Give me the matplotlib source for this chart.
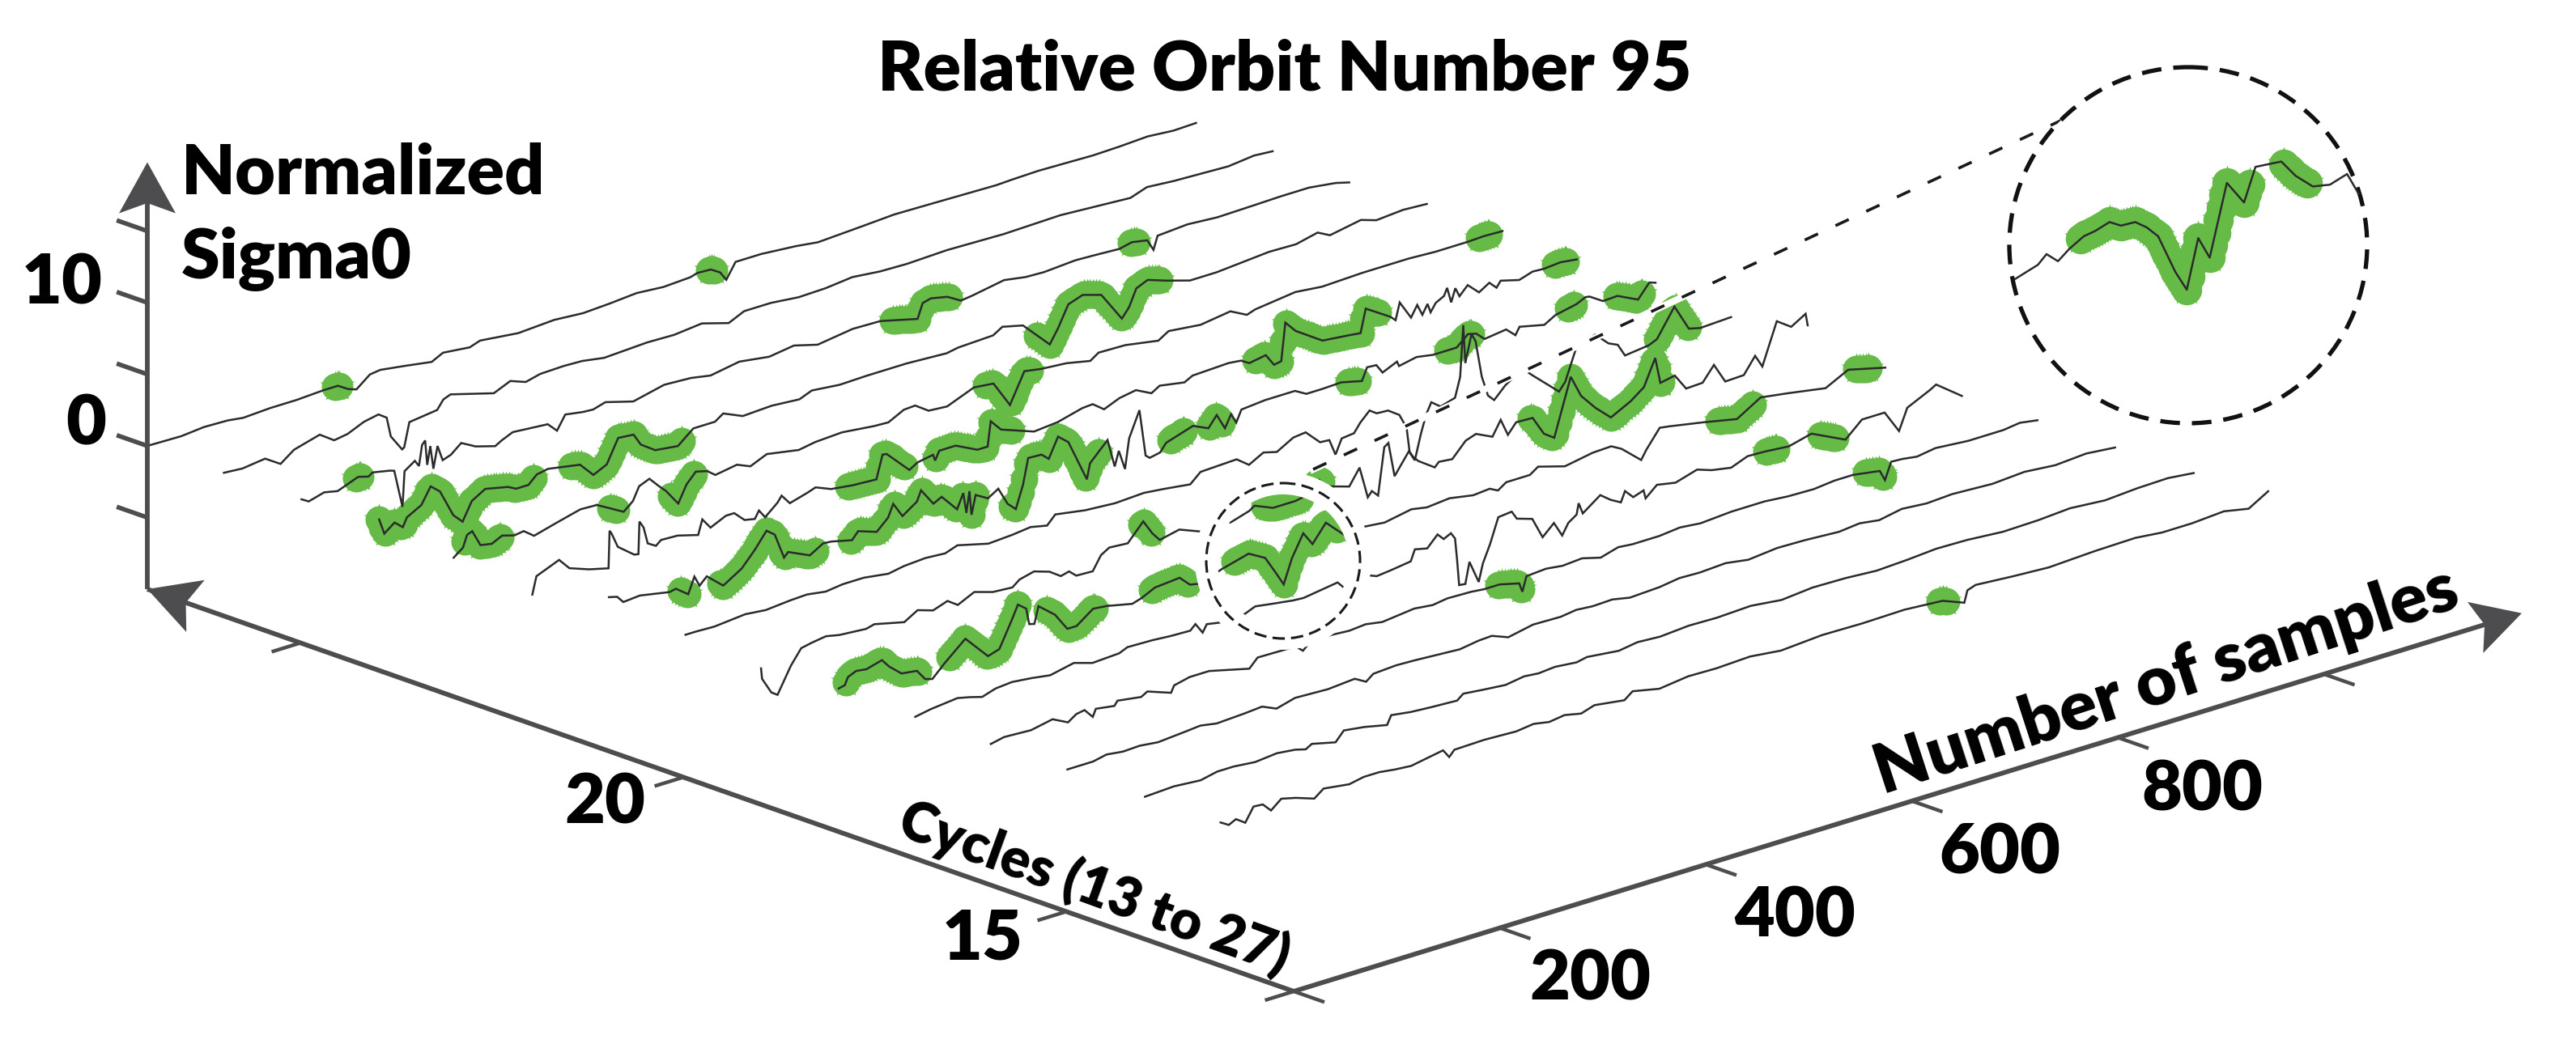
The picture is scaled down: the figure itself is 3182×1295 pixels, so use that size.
import numpy as np
import matplotlib
matplotlib.use("Agg")
import matplotlib.pyplot as plt
from matplotlib.patches import Ellipse, Polygon

# (sample, normalized sigma0)
curve_c27 = [(0,0),(33,-.05),(55,.1),(78,.05),(93,-.1),(119,0),(145,0),(171,.1),(185,.1),(195,-.35),(203,-.55),(216,.2),(226,.3),(250,.05),(276,-.25),(287,.15),(313,-.05),(323,.2),(360,-.1),(395,.05),(423,-.1),(449,0),(475,.15),(501,0),(527,.1),(534,.25),(547,.2),(556,-.2),(562,-.85),(571,.2),(596,.2),(630,0),(651,-.2),(690,-.05),(725,.1),(761,.05),(824,-.05),(839,0),(865,.05),(892,0),(918,-.05),(944,0),(971,.1),(996,-.05),(1018,0)]
curve_c26 = [(0,0),(18,-.1),(40,.1),(55,-.6),(68,.1),(93,.6),(107,-.1),(120,.05),(136,.55),(150,.75),(158,.35),(162,-1.05),(173,-2.2),(175,-2.1),(180,-.45),(207,-.2),(213,.4),(220,.6),(262,-.25),(278,.25),(293,-.15),(307,.1),(330,.15),(348,.1),(369,-.15),(411,0),(437,-.05),(464,.15),(490,-.4),(505,.1),(531,.1),(558,-.1),(584,-.05),(610,.15),(637,-.05),(663,-.1),(702,0),(757,-.1),(812,0),(880,-.3),(896,.1),(922,-.05),(975,-.2),(1000,0),(1018,-.1)]
curve_c25 = [(1,0),(8,-.3),(23,0),(36,-.2),(56,.35),(66,.15),(70,.35),(87,.1),(91,0),(99,-2.7),(101,-.25),(111,.25),(115,-.2),(118,1.2),(121,1.45),(123,-.3),(126,.95),(129,-.7),(133,.8),(138,-.3),(146,-.1),(156,.5),(170,-.05),(189,-.45),(195,-.2),(206,.15),(240,-.05),(249,-.7),(257,.25),(274,.05),(284,0),(296,.25),(323,-.3),(353,.2),(379,.1),(398,-.15),(426,.2),(455,-.1),(479,.15),(502,-.3),(536,.05),(563,0),(599,-.65),(604,.35),(612,.5),(628,.25),(641,-.3),(652,-.2),(683,.2),(704,-.05),(722,-.1),(752,.05),(769,0),(795,-.1),(807,.1),(822,-.1),(828,-.9),(832,0),(861,.15),(890,0),(924,.05),(952,.1),(979,.1),(1005,-.15),(1018,-.4)]
curve_c24 = [(2,.45),(7,-.65),(17,-.1),(25,-.6),(29,0),(43,.55),(52,1.65),(61,1.1),(74,-.85),(83,-1.5),(92,-.25),(105,.3),(127,-.05),(135,-.35),(147,-.35),(155,.2),(166,.35),(197,-.05),(210,-1.05),(223,-.6),(234,1),(249,.9),(256,.05),(270,-.65),(292,-.85),(307,.05),(328,.05),(336,.45),(355,-.15),(383,-.05),(410,-.2),(422,.15),(449,-.05),(475,0),(514,0),(553,-.15),(564,0),(598,.1),(607,.5),(627,.15),(653,-1.75),(661,-.8),(671,.65),(685,1),(703,.6),(723,-1.5),(730,-.85),(737,.3),(748,.65),(766,.2),(789,-.3),(815,-.3),(866,0),(892,-.05),(913,.3),(925,-.15),(955,.25),(970,-.1),(996,.05),(1019,-.05)]
curve_c23 = [(0,-.3),(9,.2),(13,1),(18,1.15),(26,0),(37,-.15),(47,.2),(59,-.05),(68,.05),(78,-.5),(96,-.15),(112,.15),(123,.35),(139,.3),(165,-.75),(174,-.2),(180,.7),(190,1),(199,.3),(206,-.2),(218,-1.35),(226,-.2),(235,.5),(246,.3),(254,-.15),(275,.1),(288,-.3),(304,.2),(335,-.2),(351,0),(377,.1),(408,-.15),(422,-.2),(437,.35),(448,.4),(461,-.25),(479,-.35),(505,.4),(524,.25),(540,-1.6),(554,.45),(570,.25),(595,.1),(618,-.25),(626,.15),(652,.1),(684,-.3),(694,.15),(725,-.1),(754,.2),(770,-.4),(778,-.2),(817,.15),(843,-.05),(882,.05),(927,.05),(953,-.05),(985,-.05),(1000,0),(1018,-.05)]
curve_c22 = [(2,-1.05),(6,.15),(28,.8),(38,0),(57,-.5),(76,-.85),(77,1.75),(79,1.5),(85,.45),(101,-.45),(105,-.5),(106,1.75),(110,1.25),(114,.05),(122,-.3),(127,0),(143,-.05),(163,-.45),(167,.55),(175,-.2),(190,.3),(198,.3),(208,-.4),(218,-.55),(222,-.05),(228,-.65),(240,.1),(244,.5),(252,-.2),(269,.15),(277,.35),(292,-.1),(313,-.3),(336,-.4),(342,1.2),(346,1.15),(368,-.45),(376,-.1),(391,.1),(393,-.35),(397,.25),(413,.25),(434,-.5),(444,-.5),(447,1.2),(457,.4),(489,-.45),(512,-.3),(536,.15),(546,.2),(557,-.4),(572,.05),(588,.25),(603,-.3),(611,.05),(635,-.25),(643,.05),(678,.15),(690,.05),(698,-.3),(714,-.1),(722,-.95),(729,-.85),(733,1.75),(743,.95),(769,-.3),(795,-.5),(806,-.6),(811,1),(835,-.1),(840,-.45),(844,.7),(855,-.6),(861,.15),(866,-.65),(871,0),(874,-.65),(879,-.1),(887,.2),(890,.7),(894,-.4),(898,.5),(902,-.15),(910,.45),(921,-.3),(931,.15),(938,-.35),(942,.05),(960,-.3),(973,0),(984,-.05),(1000,.05),(1016,-.1)]
curve_c21 = [(2,.65),(10,.5),(16,0),(32,.1),(61,-.3),(67,-.2),(79,-.85),(85,.25),(90,-.5),(97,0),(113,-1),(131,-.2),(144,.85),(155,1.9),(163,1.45),(172,-.35),(176,-.05),(197,-.75),(210,-.2),(218,-.25),(238,-.6),(244,-.1),(262,-.55),(273,.2),(278,1.05),(287,0),(301,.7),(305,1.4),(317,.2),(325,.5),(340,-.7),(346,.3),(349,-1.15),(352,.3),(354,-1.4),(358,-.1),(370,-.6),(380,-.15),(389,-1.4),(397,-1.95),(404,-.4),(409,1.35),(422,1.3),(429,.85),(438,2.2),(448,1.6),(466,-1.4),(469,-.35),(486,.9),(493,-1.1),(497,-.1),(503,-1.5),(507,.55),(517,2.3),(523,-1),(527,-1.25),(537,-1.1),(543,-.55),(569,.05),(584,-.45),(592,.3),(600,-.8),(606,.05),(611,-.65),(616,.15),(639,.3),(668,.3),(679,-.15),(694,-.15),(713,-.1),(733,-.45),(738,.4),(747,.35),(753,-.3),(767,.15),(769,-.2),(786,.05),(802,-.15),(825,-.15),(836,.55),(844,.4),(852,-.15),(873,.05),(882,-.55),(886,-.05),(910,-.45),(921,0),(941,.3),(950,.6),(954,.55),(967,-.05),(981,0),(1001,-.7),(1012,.25),(1018,.1)]
curve_c20 = [(2,-.1),(12,-.1),(30,-.15),(60,.05),(80,-.1),(104,.05),(120,.1),(138,-.1),(155,.05),(175,.05),(199,-.2),(214,0),(235,.1),(254,0),(266,.3),(296,-.25),(319,-.15),(337,0),(353,-.25),(361,.35),(390,0),(419,-.15),(447,-.05),(466,-.2),(492,-.45),(502,.2),(537,.3),(549,-.35),(563,.2),(576,-.05),(592,.6),(604,.7),(618,-.3),(627,-.35),(633,-1.5),(639,-.5),(651,-.4),(657,.2),(666,.85),(673,.5),(684,.45),(695,-.1),(702,-1.15),(705,-2.95),(710,-3.6),(716,-1.85),(721,-.65),(726,.1),(735,-.4),(749,-.1),(754,1.25),(757,4.8),(759,2.1),(765,4),(769,3.4),(775,.8),(781,-.65),(787,-1.1),(798,-.3),(809,.2),(817,.3),(825,-.25),(850,-1.9),(856,-1.35),(867,.85),(872,.9),(885,1.3),(898,.4),(907,.1),(914,-.8),(937,-.6),(945,-.35),(962,1.55),(976,-.3),(987,-.5),(1017,-.4)]
curve_c19 = [(1,-.55),(2,-1.3),(11,-2.45),(17,-2.75),(30,-1),(40,0),(50,.15),(64,.3),(77,.1),(103,-.05),(111,.1),(140,-.4),(153,.15),(168,-.2),(182,.15),(192,-.35),(208,.2),(226,-.2),(245,-.3),(252,.1),(266,.35),(281,0),(292,-.55),(300,-.4),(307,-.85),(323,-.9),(331,.05),(339,.4),(357,.3),(372,1.5),(381,.45),(388,-.15),(407,.15),(428,-.45),(432,-.1),(457,-.45),(475,-.05),(480,.2),(498,-.35),(520,-.35),(530,-.2),(543,.6),(550,0),(572,-.5),(582,.6),(590,-1.65),(594,-1.3),(600,-1.75),(606,1.5),(610,1.7),(616,-.75),(630,.7),(634,.2),(639,-.2),(655,-1),(659,-.7),(672,-.8),(685,.2),(695,.45),(711,-.1),(719,.9),(726,-.3),(734,.4),(750,.35),(761,-1),(771,-1.5),(787,2.4),(797,.85),(811,-.3),(826,-1.3),(845,-.6),(858,.1),(869,1.9),(874,.05),(888,.25),(899,-.9),(915,-.85),(926,.15),(937,-1.25),(955,-1.2),(966,-.1),(973,-1),(987,1.85),(1001,1.15),(1015,1.75),(1017,.9)]
curve_c18 = [(2,-.1),(8,0),(11,.5),(19,.75),(29,.65),(44,.95),(51,.35),(63,-.4),(78,-.55),(86,-1.3),(93,-1.45),(105,-.6),(125,.65),(147,-1.05),(158,-.8),(170,.95),(176,1.9),(184,1.45),(187,.3),(192,.2),(196,1.35),(212,.4),(224,-.85),(233,-.85),(249,0),(262,-.1),(287,-.5),(296,-.3),(309,.15),(333,.3),(343,-.4),(353,-.55),(374,0),(400,.5),(416,-.15),(427,-1.5),(434,-2.4),(442,-.75),(453,.75),(462,-.2),(475,1),(495,-.4),(512,-.1),(532,-.25),(558,.1),(573,-.1),(595,.05),(618,-.25),(634,-.15),(642,-.45),(650,-.05),(673,-.05),(681,.35),(707,-.2),(734,.15),(752,.2),(762,-.2),(781,-1.4),(786,-.8),(799,.45),(808,.35),(841,-.1),(874,-.6),(897,.4),(924,.1),(960,-.35),(982,.45),(1018,-.2)]
curve_c17 = [(2,-.2),(17,0),(30,.1),(43,.2),(55,0),(67,-.25),(80,.05),(96,.15),(115,0),(133,-.2),(156,.15),(174,-.25),(200,-.15),(208,.1),(232,.05),(250,-.05),(269,-.1),(274,.25),(281,-.5),(285,0),(300,-.2),(322,-.1),(332,.2),(350,0),(369,-.2),(379,-.25),(412,.1),(420,-.55),(443,-.1),(450,-.3),(463,-.2),(473,-.1),(483,0),(487,.75),(499,.55),(509,1.3),(515,.85),(522,1.1),(526,.65),(528,-.9),(530,-2.7),(536,-2.75),(540,-1.3),(549,-2.9),(553,-1.7),(560,-.5),(568,1.2),(581,1.3),(586,.7),(601,.35),(611,-1.15),(622,-.4),(630,-1.45),(636,-.7),(644,-.3),(646,.45),(650,-.35),(667,.55),(677,0),(687,-.4),(691,.3),(699,-.3),(709,-.05),(711,-.65),(722,.05),(740,-.2),(761,.25),(775,-.1),(794,-.35),(810,.1),(827,.05),(850,-.1),(872,.3),(905,-.85),(921,.2),(943,.2),(957,-1.4),(965,.05),(987,.8),(993,1.05),(1018,-.3)]
curve_c16 = [(1,-.2),(14,0),(40,-.1),(61,.2),(76,-.35),(84,.05),(92,.15),(100,-.5),(103,0),(121,-.2),(124,.1),(147,-.15),(153,.1),(176,-.5),(179,-.05),(194,.2),(213,.2),(252,-.5),(260,.1),(297,.05),(304,-.4),(310,0),(330,.1),(349,0),(365,.1),(381,-.1),(412,.15),(430,0),(444,.15),(467,.1),(480,0),(495,0),(514,-.35),(517,-1),(521,0),(540,.1),(556,-.05),(575,.05),(593,-.3),(610,.05),(624,-.05),(650,-.05),(670,.1),(690,-.05),(720,.1),(752,.1),(775,-.05),(800,-.1),(820,.05),(838,.05),(864,-.25),(869,-1),(875,.15),(886,.1),(900,-.05),(918,.15),(950,-.05),(984,-.05),(1000,.1),(1017,-.1)]
curve_c15 = [(1,-.1),(26,-.1),(39,.1),(55,-.05),(71,0),(89,-.15),(115,0),(130,.1),(146,-.1),(173,0),(190,.1),(204,-.35),(222,0),(254,-.1),(280,.05),(291,-.4),(298,0),(320,.1),(338,.05),(360,-.05),(382,-.15),(400,.05),(413,.1),(429,-.35),(453,0),(480,-.05),(495,.1),(511,0),(530,.05),(547,-.2),(576,-.1),(595,.1),(615,.05),(640,.15),(662,-.1),(690,.1),(717,.05),(750,-.1),(770,.05),(789,-.15),(811,.15),(835,0),(860,.1),(899,-.05),(930,.1),(960,-.1),(990,.05),(1018,-.15)]
curve_c14 = [(2,-.15),(30,-.05),(56,-.2),(72,.05),(88,.05),(109,-.1),(130,.05),(148,-.1),(158,-.3),(164,-.05),(187,-.45),(195,.2),(215,0),(237,-.35),(241,.25),(260,.05),(279,-.05),(305,-.15),(311,.2),(330,.05),(352,-.1),(370,.1),(384,0),(400,.1),(421,-.05),(431,.1),(462,-.15),(480,.05),(502,-.05),(530,.1),(557,.05),(590,.15),(620,-.1),(650,.1),(682,.05),(712,-.1),(742,0),(770,.15),(800,.1),(835,-.1),(869,-.05),(900,.1),(934,-.1),(965,.05),(995,.1),(1020,-.1)]
curve_c13 = [(1,-.05),(9,-.4),(16,-.15),(25,-.6),(33,.35),(42,.3),(50,-.3),(60,.3),(74,.05),(92,-.4),(101,.1),(126,-.15),(140,.05),(155,.05),(170,-.1),(186,-.2),(217,.2),(223,-.4),(228,0),(257,.05),(288,-.05),(305,.1),(320,-.1),(335,.05),(351,-.2),(364,.1),(393,-.2),(401,.25),(427,-.15),(455,.1),(482,.05),(515,.15),(545,-.1),(585,.1),(624,.05),(665,.1),(702,-.1),(723,-.7),(726,.1),(734,.3),(770,.1),(805,-.05),(850,.1),(889,.15),(915,-.05),(944,-.05),(975,.1),(999,-.25),(1018,.55)]

# sample ranges flagged green on each profile
green_c27 = [(182,186),(545,550)]
green_c26 = []
green_c25 = [(54,58),(575,629),(806,812)]
green_c24 = [(2,152),(189,296),(641,759)]
green_c23 = [(11,45),(152,158),(211,233),(517,559),(995,1005)]
green_c22 = [(309,363),(394,467),(704,823),(995,1005)]
green_c21 = [(72,78),(110,202),(237,358),(393,477),(547,560),(585,597),(720,729),(816,839),(933,939),(980,1005)]
green_c20 = [(945,975)]
green_c19 = [(370,380),(490,524),(541,545),(748,875)]
green_c18 = [(9,79),(110,176),(204,250),(306,341),(386,485),(856,889),(990,1002)]
green_c17 = [(828,838),(881,895)]
green_c16 = [(494,516),(851,867)]
green_c15 = []
green_c14 = []
green_c13 = [(699,705)]

# zoomed detail in the big circle
inset_curve = [(377,-.95),(385,-.55),(388,-.25),(392,-.45),(396,-.1),(401,.25),(405,.4),(410,.65),(414,.55),(419,.65),(423,.5),(427,.25),(433,-.75),(437,-1.25),(441,.2),(445,-.35),(451,1.75),(457,1.2),(461,2.2),(470,2.35),(475,1.95),(481,1.65),(487,1.7),(493,2),(497,1.45)]
inset_green = [(400,459),(471,479)]

sigma_ticks = [15,10,5,0,-5]
sigma_labels = {10:"10", 0:"0"}
cycle_ticks = [25,20,15]
sample_ticks = [200,400,600,800,1000]
sample_labels = [200,400,600,800]

plt.rcParams['font.family'] = ['Lato', 'DejaVu Sans']
GREEN = '#66bb47'
AXIS = '#4d4d4f'

fig = plt.figure(figsize=(31.82, 12.95), dpi=100)
ax = fig.add_axes([0, 0, 1, 1])
ax.set_xlim(0, 3182)
ax.set_ylim(1295, 0)
ax.axis('off')


# oblique view of (cycle, sample, sigma) on the page
def project(cycle, sample, sigma):
    x = 182 + (27 - cycle) * 94.6 + np.asarray(sample) * 1.2725
    y = 728 + (27 - cycle) * 33.2 - np.asarray(sample) * 0.392 - (np.asarray(sigma) + 10) * 17.7
    return x, y


def arrowhead(tip, direction, length, half):
    d = np.array(direction, dtype=float)
    d = d / np.hypot(d[0], d[1])
    n = np.array([-d[1], d[0]])
    tip = np.array(tip)
    pts = [tip, tip - d * length + n * half, tip - d * length * 0.8, tip - d * length - n * half]
    ax.add_patch(Polygon(pts, closed=True, fc=AXIS, ec='none', zorder=6))


def green_path(n, s, lo, hi):
    # walk along the profile so the stars overlap into a band
    xs = np.arange(lo, hi + 3, 3.0)
    xs[-1] = min(xs[-1], hi)
    return xs, np.interp(xs, n, s)


curves = {27:curve_c27, 26:curve_c26, 25:curve_c25, 24:curve_c24, 23:curve_c23, 22:curve_c22, 21:curve_c21,
          20:curve_c20, 19:curve_c19, 18:curve_c18, 17:curve_c17, 16:curve_c16, 15:curve_c15, 14:curve_c14, 13:curve_c13}
greens = {27:green_c27, 26:green_c26, 25:green_c25, 24:green_c24, 23:green_c23, 22:green_c22, 21:green_c21,
          20:green_c20, 19:green_c19, 18:green_c18, 17:green_c17, 16:green_c16, 15:green_c15, 14:green_c14, 13:green_c13}

for c in curves:
    n, s = np.array(curves[c]).T
    for lo, hi in greens[c]:
        gn, gs = green_path(n, s, lo, hi)
        px, py = project(c, gn, gs)
        ax.plot(px, py, ls='none', marker='o', ms=24.5, mfc=GREEN, mec='none', zorder=2)
        ax.plot(px, py, ls='none', marker='*', ms=29, mfc=GREEN, mec='none', zorder=2)

for c in curves:
    n, s = np.array(curves[c]).T
    px, py = project(c, n, s)
    ax.plot(px, py, color='#2b2b2b', lw=1.8, solid_joinstyle='miter', zorder=3)

# small circle and the leader to the big one
ax.add_patch(Ellipse((1585, 693), 190, 192, fill=False, ec='white', lw=20, zorder=4))
ax.plot([1622, 2552], [580, 146], color='white', lw=6, zorder=4)
ax.add_patch(Ellipse((1585, 693), 190, 192, fill=False, ec='#1a1a1a', lw=2.2, ls=(0, (5, 2.5)), zorder=5))
ax.plot([1622, 2552], [580, 146], color='#1a1a1a', lw=2.6, ls=(0, (5, 6.6)), zorder=5)
ax.add_patch(Ellipse((2703, 303), 442, 440, fc='white', ec='#111111', lw=3.8, ls=(0, (4.6, 2.8)), zorder=5))

# zoomed profile, on its own small axes over the big circle
ax_in = fig.add_axes([2482 / 3182, 1 - 523 / 1295, 442 / 3182, 440 / 1295], facecolor='none', zorder=5)
ax_in.set_xlim(375, 500)
ax_in.set_ylim(-5, 5)
ax_in.axis('off')
in_n, in_s = np.array(inset_curve).T
for lo, hi in inset_green:
    gn = np.arange(lo, hi + 1, 1.0)
    gs = np.interp(gn, in_n, in_s)
    ax_in.plot(gn, gs, ls='none', marker='o', ms=27, mfc=GREEN, mec='none')
    ax_in.plot(gn, gs, ls='none', marker='*', ms=31, mfc=GREEN, mec='none')
ax_in.plot(in_n, in_s, color='#2b2b2b', lw=1.8)

# axes of the 3D box
corner_c = 12.03
top_sigma = 19.8
end_sample = 1192
ax.plot(*project(27, [0, 0], [-10, top_sigma - 2]), color=AXIS, lw=4.2, solid_capstyle='butt', zorder=6)
ax.plot(*project(np.array([27, corner_c]), [0, 0], [-10, -10]), color=AXIS, lw=4.2, solid_capstyle='butt', zorder=6)
ax.plot(*project(corner_c, [0, end_sample - 25], [-10, -10]), color=AXIS, lw=4.2, solid_capstyle='butt', zorder=6)

tip = project(27, 0, top_sigma)
arrowhead((float(tip[0]), float(tip[1])), (0, -1), 63, 35)
tip = project(27, 0, -10)
arrowhead((float(tip[0]), float(tip[1])), (-94.6, -33.2), 63, 34)
tip = project(corner_c, end_sample, -10)
arrowhead((float(tip[0]), float(tip[1])), (1.2725, -0.392), 60, 33)

for t in sigma_ticks:
    x0, y0 = project(27, 0, t)
    x1, y1 = project(27.4, 0, t)
    ax.plot([x0, x1], [y0, y1], color=AXIS, lw=4, solid_capstyle='butt', zorder=6)
for t in cycle_ticks + [corner_c]:
    x0, y0 = project(t, 0, -10)
    x1, y1 = project(t, -28, -10)
    ax.plot([x0, x1], [y0, y1], color=AXIS, lw=3.2, solid_capstyle='butt', zorder=6)
for t in [0] + sample_ticks:
    x0, y0 = project(corner_c, t, -10)
    x1, y1 = project(corner_c - 0.4, t, -10)
    ax.plot([x0, x1], [y0, y1], color=AXIS, lw=3.2, solid_capstyle='butt', zorder=6)

FS = 62
WEIGHT = 'heavy'
ax.text(1587, 86, "Relative Orbit Number 95", fontsize=FS, fontweight=WEIGHT, ha='center', va='center', color='black')
ax.text(224, 239, "Normalized", fontsize=FS, fontweight=WEIGHT, ha='left', va='baseline')
ax.text(224, 344, "Sigma0", fontsize=FS, fontweight=WEIGHT, ha='left', va='baseline')
ax.text(127, 375, sigma_labels[10], fontsize=FS, fontweight=WEIGHT, ha='right', va='baseline')
ax.text(131, 550, sigma_labels[0], fontsize=FS, fontweight=WEIGHT, ha='right', va='baseline')
ax.text(797, 1017, "20", fontsize=FS, fontweight=WEIGHT, ha='right', va='baseline')
ax.text(1264, 1185, "15", fontsize=FS, fontweight=WEIGHT, ha='right', va='baseline')
for lab, xl, yl in zip(sample_labels, [1964, 2217, 2470, 2720], [1236, 1158, 1080, 1002]):
    ax.text(xl, yl, str(lab), fontsize=FS, fontweight=WEIGHT, ha='center', va='baseline')
ax.text(2676, 842, "Number of samples", fontsize=62, fontweight=WEIGHT, rotation=18, rotation_mode='anchor', ha='center', va='center')
ax.text(1352, 1098, "Cycles (13 to 27)", fontsize=49, fontweight=WEIGHT, rotation=-20, rotation_mode='anchor', ha='center', va='center')

fig.savefig('out.png', dpi=100)
